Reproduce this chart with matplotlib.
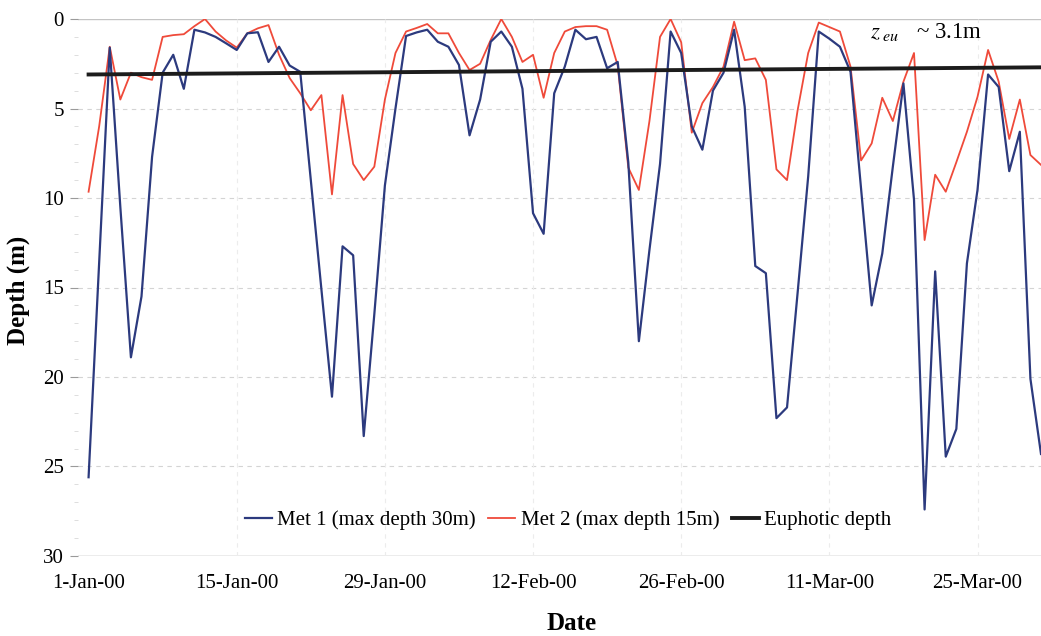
import matplotlib
matplotlib.use("Agg")
import matplotlib.pyplot as plt
import numpy as np

plt.rcParams['font.family'] = ['Liberation Serif', 'DejaVu Serif']
plt.rcParams['mathtext.fontset'] = 'stix'

# ---- data (day 0 = 1-Jan-2000, daily) ----
met1 = [25.6, 13.6, 1.6, 10.5, 18.9, 15.5, 7.7, 3.0, 2.0, 3.9,
        0.6, 0.75, 1.0, 1.36, 1.73, 0.8, 0.74, 2.4, 1.55, 2.6,
        2.95, 9.0, 15.1, 21.1, 12.7, 13.2, 23.3, 16.5, 9.3, 5.0,
        0.95, 0.75, 0.6, 1.27, 1.55, 2.57, 6.5, 4.5, 1.27, 0.7,
        1.55, 3.9, 10.85, 12.0, 4.15, 2.66, 0.6, 1.13, 1.0, 2.75,
        2.4, 8.0, 18.0, 12.9, 8.1, 0.7, 1.9, 6.0, 7.3, 4.0,
        3.0, 0.6, 4.9, 13.8, 14.2, 22.3, 21.7, 15.3, 8.8, 0.7,
        1.1, 1.55, 2.95, 9.5, 16.0, 13.1, 8.25, 3.6, 10.1, 27.4,
        14.1, 24.45, 22.9, 13.65, 9.55, 3.1, 3.8, 8.5, 6.3, 20.1,
        24.3]
met2 = [9.65, 6.0, 1.55, 4.5, 3.0, 3.25, 3.4, 1.0, 0.9, 0.85,
        0.4, 0.0, 0.7, 1.2, 1.6, 0.8, 0.52, 0.34, 2.0, 3.3,
        4.15, 5.1, 4.25, 9.8, 4.25, 8.1, 9.0, 8.25, 4.5, 1.9,
        0.7, 0.5, 0.28, 0.8, 0.8, 1.9, 2.85, 2.5, 1.17, 0.0,
        1.0, 2.4, 2.0, 4.4, 1.9, 0.7, 0.45, 0.4, 0.4, 0.6,
        2.6, 8.3, 9.55, 5.7, 1.0, 0.0, 1.3, 6.35, 4.7, 3.8,
        2.66, 0.15, 2.3, 2.2, 3.4, 8.4, 9.0, 5.1, 1.9, 0.2,
        0.45, 0.7, 2.66, 7.9, 6.95, 4.4, 5.7, 3.5, 1.9, 12.35,
        8.7, 9.65, 8.0, 6.3, 4.35, 1.73, 3.5, 6.7, 4.5, 7.6,
        8.15]
days = list(range(len(met1)))
euph_days = [0, 90]
euph_depth = [3.1, 2.7]
tick_days = [0, 14, 28, 42, 56, 70, 84]
tick_labels = ['1-Jan-00', '15-Jan-00', '29-Jan-00', '12-Feb-00',
               '26-Feb-00', '11-Mar-00', '25-Mar-00']

W, H = 1041, 636
fig = plt.figure(figsize=(W / 100, H / 100), dpi=100)
ax = fig.add_axes([78 / W, 1 - 556 / H, 963 / W, 537 / H])

# grid
for y in range(5, 30, 5):
    ax.axhline(y, color='#d4d4d4', lw=0.8, ls=(0, (4, 4)), zorder=0)
ax.axhline(0, color='#c4c4c4', lw=1.0, zorder=0)
ax.axhline(30, color='#a0a0a0', lw=1.0, zorder=0)
for d in tick_days[1:]:
    ax.axvline(d, color='#ececec', lw=0.8, ls=(0, (4, 4)), zorder=0)

ax.plot(days, met1, color='#2c3a7e', lw=1.6, label='Met 1 (max depth 30m)', zorder=3)
ax.plot(days, met2, color='#ef4a3a', lw=1.3, label='Met 2 (max depth 15m)', zorder=2)
ax.plot(euph_days, euph_depth, color='#1c1c1c', lw=2.8, label='Euphotic depth', zorder=4)

ax.set_xlim(-1, 90)
ax.set_ylim(30, 0)
for s in ax.spines.values():
    s.set_visible(False)

ax.set_yticks(range(0, 31, 5))
ax.set_yticks(range(0, 31, 1), minor=True)
ax.tick_params(axis='y', which='major', length=6, color='#9a9a9a', labelsize=15, pad=4)
ax.tick_params(axis='y', which='minor', length=3, color='#d8d8d8')
ax.set_xticks(tick_days)
ax.set_xticklabels(tick_labels)
ax.tick_params(axis='x', which='major', length=0, labelsize=15, pad=13)

fig.text(18 / W, 1 - 290 / H, 'Depth (m)', rotation=90, ha='center', va='center',
         fontsize=18, fontweight='bold')
fig.text(572 / W, 1 - 624 / H, 'Date', ha='center', va='center',
         fontsize=18, fontweight='bold')
fig.text(870 / W, 1 - 32 / H, r'$z_{\ eu}$' + '   ~ 3.1m', ha='left', va='center',
         fontsize=16.5)

leg = ax.legend(loc='center', bbox_to_anchor=(568 / W, 1 - 520 / H),
                bbox_transform=fig.transFigure, ncol=3, frameon=False,
                fontsize=15, handlelength=1.3, handletextpad=0.25,
                columnspacing=0.6)

fig.savefig('out.png', dpi=100)
